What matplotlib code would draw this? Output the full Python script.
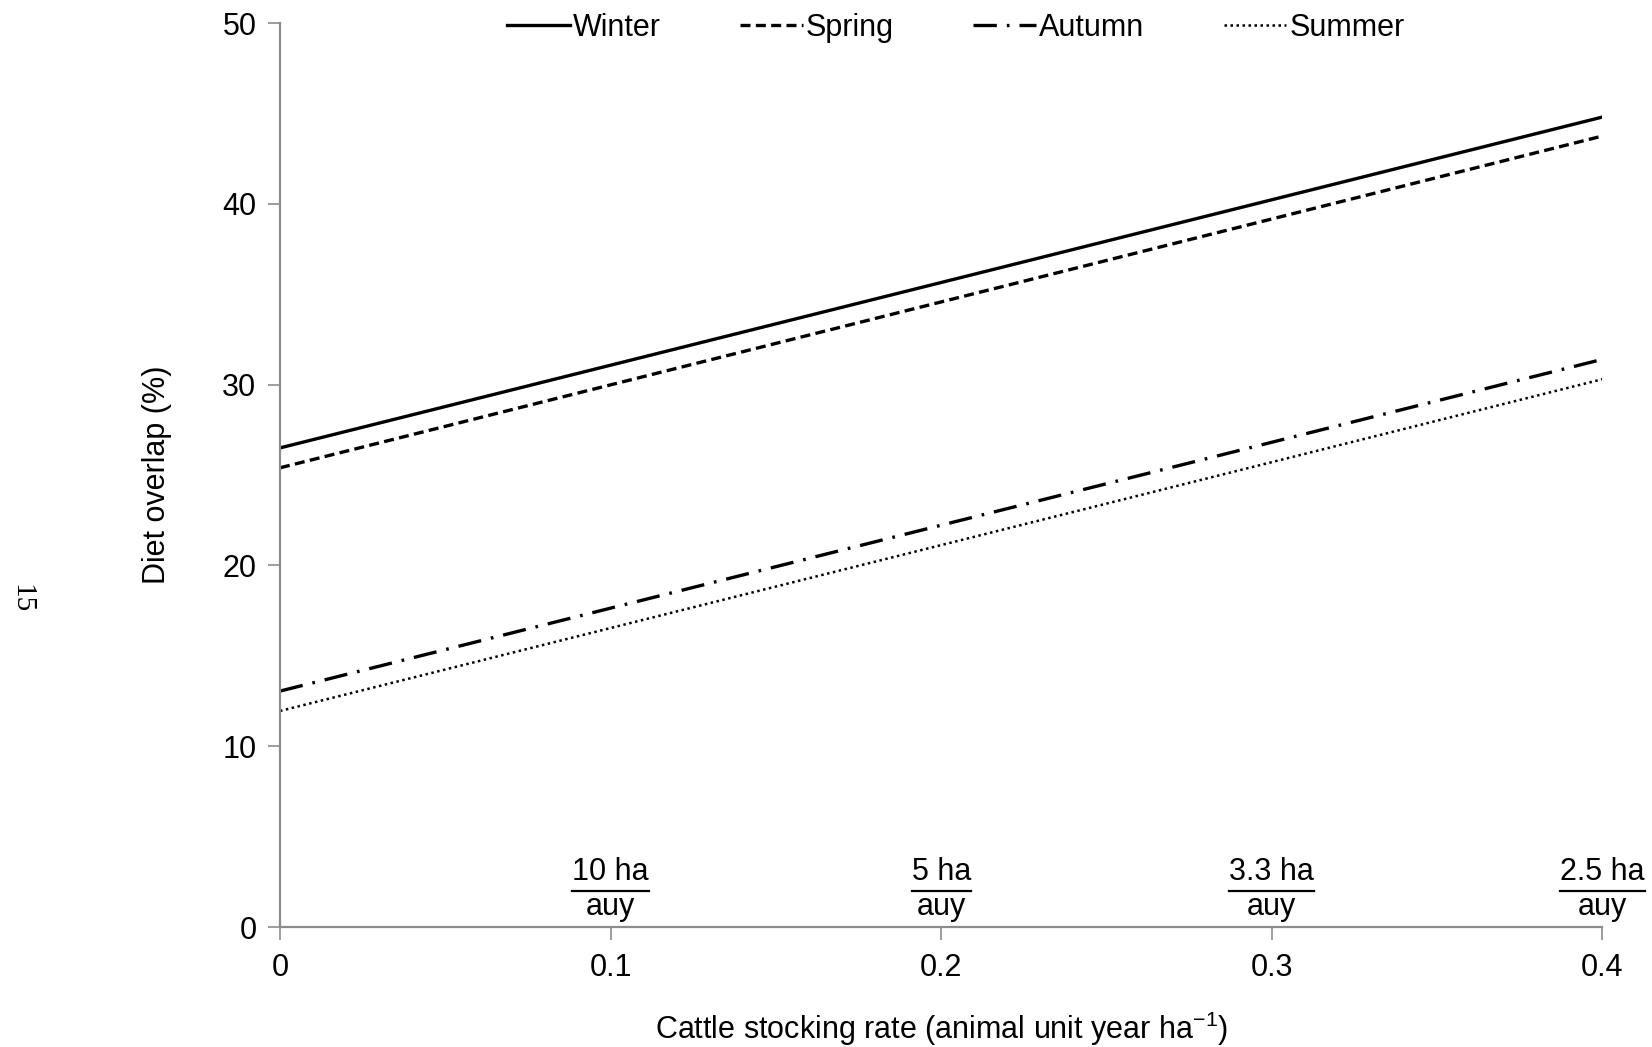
import matplotlib.pyplot as plt
import numpy as np

# stocking rate endpoints and fitted diet overlap (%)
stocking = [0.0, 0.4]
winter = [26.5, 44.8]
spring = [25.4, 43.75]
autumn = [13.05, 31.4]
summer = [11.95, 30.3]

area_ticks = [0.1, 0.2, 0.3, 0.4]
area_labels = ["10 ha", "5 ha", "3.3 ha", "2.5 ha"]

plt.rcParams["font.family"] = ["Liberation Sans", "DejaVu Sans"]
plt.rcParams["mathtext.default"] = "regular"


def main():
    fig = plt.figure(figsize=(16.52, 10.47), dpi=100)
    ax = fig.add_axes([0.1695, 0.1146, 0.8005, 0.8634])

    ax.plot(stocking, winter, color="black", lw=2.4, label="Winter")
    ax.plot(stocking, spring, color="black", lw=2.4, ls=(0, (3, 1.6)), label="Spring")
    ax.plot(stocking, autumn, color="black", lw=2.4, ls=(0, (7, 3, 0.8, 3)), label="Autumn")
    ax.plot(stocking, summer, color="black", lw=1.8, ls=(0, (1, 1.4)), label="Summer")

    ax.set_xlim(0, 0.4)
    ax.set_ylim(0, 50)
    ax.set_xticks([0, 0.1, 0.2, 0.3, 0.4])
    ax.set_xticklabels(["0", "0.1", "0.2", "0.3", "0.4"])
    ax.set_yticks([0, 10, 20, 30, 40, 50])

    for s in ["top", "right"]:
        ax.spines[s].set_visible(False)
    for s in ["left", "bottom"]:
        ax.spines[s].set_color("#8c8c8c")
        ax.spines[s].set_linewidth(1.6)
    ax.tick_params(axis="both", direction="out", length=9, width=1.2,
                   color="#8c8c8c", labelsize=22, labelcolor="black")
    ax.tick_params(axis="x", pad=10)
    ax.tick_params(axis="y", pad=8)

    ax.set_xlabel("Cattle stocking rate (animal unit year ha$^{-1}$)", fontsize=22, labelpad=19)
    ax.set_ylabel("Diet overlap (%)", fontsize=22, labelpad=36)

    # area-per-animal annotations above the x ticks
    labels = []
    for x, lab in zip(area_ticks, area_labels):
        t = ax.text(x, 3.05, lab, ha="center", va="center", fontsize=22)
        labels.append(t)
        ax.text(x, 1.1, "auy", ha="center", va="center", fontsize=22)
    fig.canvas.draw()
    r = fig.canvas.get_renderer()
    inv = ax.transData.inverted()
    for t in labels:
        bb = t.get_window_extent(r)
        (x0, _), (x1, _) = inv.transform([(bb.x0, 0), (bb.x1, 0)])
        ax.plot([x0, x1], [1.98, 1.98], color="black", lw=1.6, clip_on=False)

    ax.legend(loc="center", bbox_to_anchor=(0.511, 0.995), ncol=4, frameon=False,
              fontsize=22, handlelength=2.05, handletextpad=0.1, columnspacing=2.6)

    fig.text(0.013, 0.428, "15", rotation=270, fontsize=21,
             family="Liberation Serif", ha="center", va="center")

    fig.savefig("out.png", dpi=100)
    plt.close(fig)


if __name__ == "__main__":
    main()
